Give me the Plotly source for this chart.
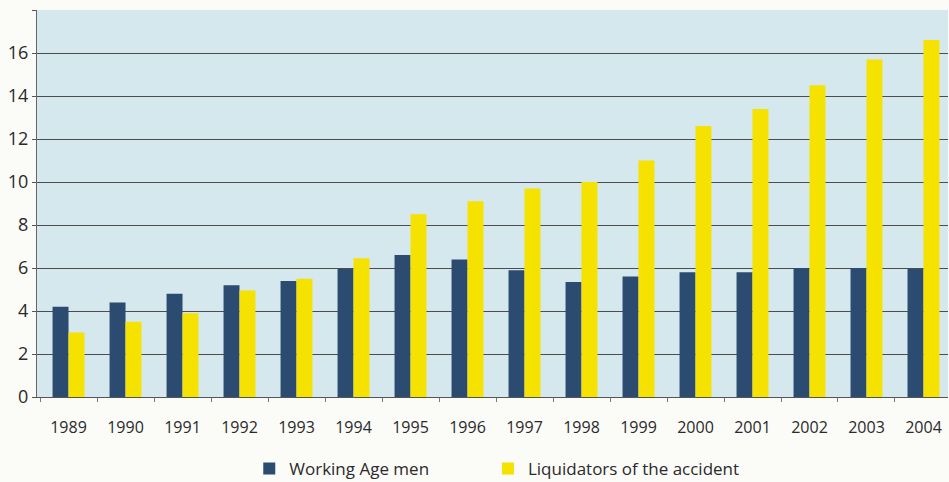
import plotly.graph_objects as go

years = ["1989", "1990", "1991", "1992", "1993", "1994", "1995", "1996",
         "1997", "1998", "1999", "2000", "2001", "2002", "2003", "2004"]
working_age_men = [4.2, 4.4, 4.8, 5.2, 5.4, 5.95, 6.6, 6.4,
                   5.9, 5.35, 5.6, 5.8, 5.8, 6.0, 6.0, 5.95]
liquidators = [3.0, 3.5, 3.9, 4.95, 5.5, 6.45, 8.5, 9.1,
               9.7, 10.0, 11.0, 12.6, 13.4, 14.5, 15.7, 16.6]
y_ticks = [0, 2, 4, 6, 8, 10, 12, 14, 16, 18]

fig = go.Figure()
fig.add_trace(go.Bar(x=years, y=working_age_men, name="Working Age men",
                     marker=dict(color="#2c4b70", line=dict(width=0)),
                     legend="legend"))
fig.add_trace(go.Bar(x=years, y=liquidators, name="Liquidators of the accident",
                     marker=dict(color="#f5e200", line=dict(width=0)),
                     legend="legend2"))

legend_common = dict(orientation="h", xanchor="left", y=-0.186, yanchor="middle",
                     font=dict(size=17, color="#2a2a2a"), bgcolor="rgba(0,0,0,0)")

fig.update_layout(
    width=949, height=482,
    margin=dict(l=37, r=1, t=10, b=85, autoexpand=False),
    paper_bgcolor="#fbfbf8",
    plot_bgcolor="#d5e8ee",
    barmode="group", bargap=0.44, bargroupgap=0,
    font=dict(family="Open Sans", color="#2a2a2a"),
    showlegend=True,
    legend=dict(x=0.233, **legend_common),
    legend2=dict(x=0.495, **legend_common),
    xaxis=dict(type="category", range=[-0.553, 15.43], showgrid=False,
               showline=True, linecolor="#555", linewidth=1,
               ticks="outside", tickson="boundaries", ticklen=4,
               tickcolor="#777", tickfont=dict(size=16, color="#2a2a2a"),
               ticklabelstandoff=16),
    yaxis=dict(range=[0, 18], tickvals=y_ticks, showgrid=True, gridcolor="#4d4d4d",
               gridwidth=1.3, showline=True, linecolor="#666", linewidth=1,
               ticks="outside", ticklen=4, tickcolor="#555",
               tickfont=dict(size=18, color="#2a2a2a"), zeroline=False),
)

fig.write_html("out.html")
